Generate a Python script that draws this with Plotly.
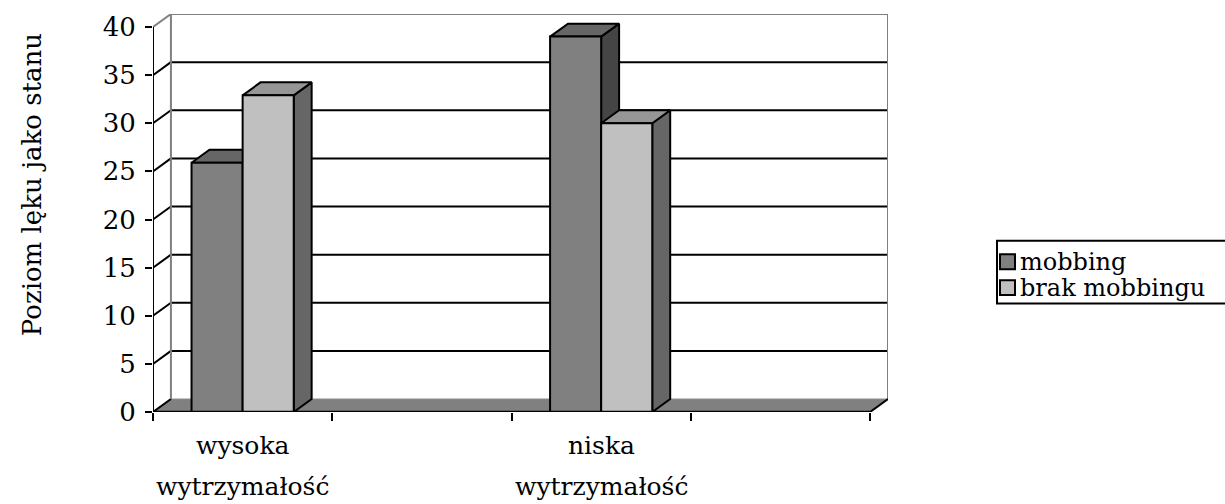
import plotly.graph_objects as go

# ---- data -------------------------------------------------------------
categories = ["wysoka\nwytrzymałość", "", "niska\nwytrzymałość", ""]
series_names = ["mobbing", "brak mobbingu"]
mobbing = [25.9, None, 39.0, None]
brak_mobbingu = [32.9, None, 30.0, None]
y_ticks = [0, 5, 10, 15, 20, 25, 30, 35, 40]
y_title = "Poziom lęku jako stanu"

# ---- styling / geometry -------------------------------------------------
FONT = "DejaVu Serif"
W, H = 1225, 504
L, R, T, B = 153, 337, 12, 92
X_MIN, X_MAX = -0.5, len(categories) - 0.5
DX, DY = 0.1, 1.35            # depth offset of the 3-D box (data units)
BAR_W = 0.285
Y_TOP = y_ticks[-1]

FACE_COLORS = {
    "mobbing": {"front": "#808080", "top": "#666666", "side": "#454545"},
    "brak mobbingu": {"front": "#c0c0c0", "top": "#969696", "side": "#666666"},
}

plot_w = W - L - R
plot_h = H - T - B


def px_x(px):
    return (px - L) / plot_w


def px_y(py):
    return (H - B - py) / plot_h


def path(points, close=True):
    s = "M " + " L ".join(f"{x},{y}" for x, y in points)
    return s + (" Z" if close else "")


shapes = []

# floor
shapes.append(dict(type="path", xref="x", yref="y", layer="below",
                   path=path([(X_MIN, 0), (X_MAX, 0), (X_MAX + DX, DY), (X_MIN + DX, DY)]),
                   fillcolor="#808080", line=dict(color="#8c8c8c", width=1)))

# back wall gridlines and side-wall diagonals
for v in y_ticks[:-1]:
    if v > 0:
        shapes.append(dict(type="line", xref="x", yref="y", layer="below",
                           x0=X_MIN + DX, x1=X_MAX + DX, y0=v + DY, y1=v + DY,
                           line=dict(color="black", width=2)))
    shapes.append(dict(type="line", xref="x", yref="y", layer="below",
                       x0=X_MIN, x1=X_MIN + DX, y0=v, y1=v + DY,
                       line=dict(color="black", width=2)))

# back wall border
shapes.append(dict(type="path", xref="x", yref="y", layer="below",
                   path=path([(X_MIN + DX, DY), (X_MIN + DX, Y_TOP + DY),
                              (X_MAX + DX, Y_TOP + DY), (X_MAX + DX, DY)], close=False),
                   line=dict(color="#808080", width=2)))
shapes.append(dict(type="line", xref="x", yref="y", layer="below",
                   x0=X_MIN, x1=X_MIN + DX, y0=Y_TOP, y1=Y_TOP + DY,
                   line=dict(color="#808080", width=2)))

# front axis lines and floor edge
shapes.append(dict(type="line", xref="x", yref="y", layer="above",
                   x0=X_MIN, x1=X_MIN, y0=0, y1=Y_TOP, line=dict(color="black", width=2)))
shapes.append(dict(type="line", xref="x", yref="y", layer="above",
                   x0=X_MIN, x1=X_MAX, y0=0, y1=0, line=dict(color="black", width=2.5)))
shapes.append(dict(type="line", xref="x", yref="y", layer="above",
                   x0=X_MAX, x1=X_MAX + DX, y0=0, y1=DY, line=dict(color="black", width=2)))

fig = go.Figure()

# ---- 3-D bars: side, top and front faces of each series ----------------
for s_idx, (name, values) in enumerate(zip(series_names, [mobbing, brak_mobbingu])):
    faces = {"side": ([], []), "top": ([], []), "front": ([], [])}
    for c_idx, v in enumerate(values):
        if v is None:
            continue
        x0 = c_idx - BAR_W + s_idx * BAR_W
        x1 = x0 + BAR_W
        polys = {
            "side": [(x1, 0), (x1 + DX, DY), (x1 + DX, v + DY), (x1, v)],
            "top": [(x0, v), (x1, v), (x1 + DX, v + DY), (x0 + DX, v + DY)],
            "front": [(x0, 0), (x1, 0), (x1, v), (x0, v)],
        }
        for face, pts in polys.items():
            xs, ys = faces[face]
            pts = pts + [pts[0]]
            xs.extend([p[0] for p in pts] + [None])
            ys.extend([p[1] for p in pts] + [None])
    for face in ["side", "top", "front"]:
        xs, ys = faces[face]
        fig.add_trace(go.Scatter(
            x=xs, y=ys, mode="lines", fill="toself",
            fillcolor=FACE_COLORS[name][face],
            line=dict(color="black", width=2),
            name=name, showlegend=False, hoverinfo="skip"))

# ---- category labels ------------------------------------------------------
annotations = []
for c_idx, label in enumerate(categories):
    if not label:
        continue
    for line_no, text in enumerate(label.split("\n")):
        annotations.append(dict(text=text, xref="x", yref="paper",
                                x=c_idx, y=px_y(446 + 41 * line_no),
                                xanchor="center", yanchor="middle", showarrow=False,
                                font=dict(family=FONT, size=25, color="black")))

# axis title
annotations.append(dict(text=y_title, xref="paper", yref="paper",
                        x=px_x(32), y=px_y(184), textangle=-90,
                        xanchor="center", yanchor="middle", showarrow=False,
                        font=dict(family=FONT, size=26, color="black")))

# ---- legend box ------------------------------------------------------------
shapes.append(dict(type="rect", xref="paper", yref="paper", layer="above",
                   x0=px_x(997), x1=px_x(1240), y0=px_y(303), y1=px_y(240),
                   fillcolor="white", line=dict(color="black", width=2)))
for i, name in enumerate(series_names):
    cy = 261 + 26 * i
    shapes.append(dict(type="rect", xref="paper", yref="paper", layer="above",
                       x0=px_x(1000), x1=px_x(1015), y0=px_y(cy + 7.5), y1=px_y(cy - 7.5),
                       fillcolor=FACE_COLORS[name]["front"], line=dict(color="black", width=2)))
    annotations.append(dict(text=name, xref="paper", yref="paper",
                            x=px_x(1018), y=px_y(cy), xanchor="left", yanchor="middle",
                            showarrow=False,
                            font=dict(family=FONT, size=24, color="black")))

fig.update_layout(
    width=W, height=H,
    margin=dict(l=L, r=R, t=T, b=B, pad=0),
    paper_bgcolor="white", plot_bgcolor="white",
    showlegend=False,
    shapes=shapes, annotations=annotations,
    xaxis=dict(range=[X_MIN, X_MAX + DX], showgrid=False, zeroline=False, showline=False,
               tickvals=[i - 0.5 for i in range(len(categories) + 1)],
               ticktext=[""] * (len(categories) + 1),
               ticks="outside", ticklen=8, tickwidth=2, tickcolor="black"),
    yaxis=dict(range=[0, Y_TOP + DY], showgrid=False, zeroline=False, showline=False,
               tickvals=y_ticks, ticks="outside", ticklen=7, tickwidth=2,
               tickcolor="black", ticklabelstandoff=4,
               tickfont=dict(family=FONT, size=26, color="black")),
)

fig.write_html("out.html")
